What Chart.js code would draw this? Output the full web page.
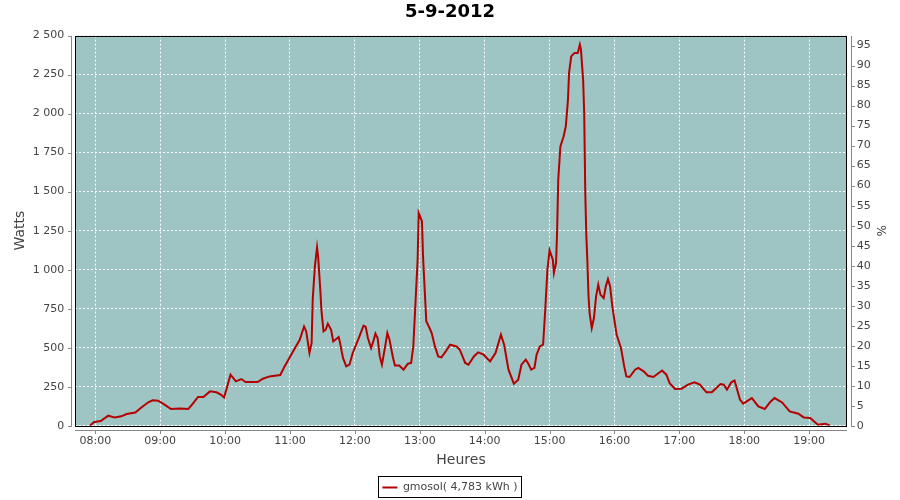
<!DOCTYPE html>
<html>
<head>
<meta charset="utf-8">
<script src="https://cdn.jsdelivr.net/npm/chart.js@4.4.1/dist/chart.umd.min.js"></script>
<style>
  html, body { margin: 0; padding: 0; background: #fff; }
  #wrap { width: 900px; height: 500px; }
</style>
</head>
<body>
<div id="wrap"><canvas id="myChart" width="900" height="500"></canvas></div>
<script>
// relevés (heure, watts)
const times = [
  '07:55','07:59','08:05','08:12','08:18','08:24','08:29','08:37','08:42','08:49',
  '08:53','08:58','09:04','09:10','09:18','09:26','09:30','09:35','09:40','09:46',
  '09:52','09:56','09:59','10:02','10:05','10:10','10:15','10:19','10:30','10:35',
  '10:41','10:51','10:55','11:02','11:09','11:13','11:15','11:18','11:20','11:21',
  '11:23','11:25','11:26','11:28','11:29','11:31','11:33','11:35','11:38','11:40',
  '11:45','11:46','11:49','11:52','11:55','11:58','12:03','12:08','12:10','12:12',
  '12:15','12:17','12:19','12:21','12:23','12:25','12:28','12:30','12:32','12:35',
  '12:37','12:41','12:45','12:49','12:52','12:54','12:56','12:58','12:59','13:02',
  '13:03','13:05','13:06','13:09','13:11','13:14','13:17','13:20','13:24','13:28',
  '13:34','13:37','13:42','13:45','13:50','13:54','13:59','14:05','14:10','14:15',
  '14:18','14:22','14:27','14:31','14:34','14:38','14:40','14:43','14:46','14:48',
  '14:51','14:54','14:56','14:58','15:00','15:03','15:04','15:06','15:07','15:08',
  '15:10','15:13','15:15','15:17','15:18','15:20','15:23','15:26','15:28','15:29',
  '15:31','15:32','15:33','15:34','15:35','15:36','15:37','15:39','15:41','15:43',
  '15:45','15:47','15:50','15:52','15:54','15:56','15:58','16:02','16:06','16:09',
  '16:11','16:14','16:19','16:22','16:27','16:31','16:36','16:44','16:48','16:51',
  '16:56','17:02','17:08','17:14','17:19','17:25','17:30','17:38','17:41','17:44',
  '17:48','17:51','17:53','17:56','17:59','18:07','18:13','18:19','18:24','18:28',
  '18:35','18:42','18:50','18:55','19:01','19:08','19:15','19:19'
];
const watts = [
  0, 24, 30, 64, 52, 60, 75, 84, 113, 150,
  163, 160, 135, 107, 110, 107, 140, 184, 184, 220,
  214, 200, 181, 252, 327, 284, 299, 280, 280, 301,
  316, 325, 380, 466, 551, 636, 604, 466, 530, 808,
  1021, 1143, 1085, 872, 744, 604, 615, 654, 615, 540,
  568, 540, 434, 380, 391, 466, 551, 641, 633, 562,
  498, 540, 590, 562, 444, 391, 508, 594, 551, 444,
  386, 386, 359, 397, 402, 508, 786, 1064, 1363, 1310,
  1085, 808, 669, 626, 594, 508, 444, 438, 476, 519,
  508, 487, 402, 391, 444, 470, 455, 412, 466, 583,
  519, 359, 269, 295, 391, 423, 402, 359, 370, 455,
  508, 519, 744, 1000, 1124, 1064, 979, 1043, 1256, 1577,
  1790, 1855, 1919, 2090, 2261, 2367, 2389, 2389, 2442, 2410,
  2218, 2004, 1491, 1213, 1043, 829, 722, 626, 690, 829,
  904, 840, 818, 893, 940, 893, 765, 583, 498, 380,
  316, 312, 359, 370, 348, 320, 312, 354, 327, 273,
  235, 237, 263, 278, 263, 214, 214, 267, 263, 231,
  278, 290, 241, 167, 141, 177, 124, 107, 152, 177,
  149, 92, 77, 53, 49, 6, 13, 2
];
const hourTicks = ['08:00','09:00','10:00','11:00','12:00','13:00','14:00','15:00','16:00','17:00','18:00','19:00'];
const pctTicks = [0, 5, 10, 15, 20, 25, 30, 35, 40, 45, 50, 55, 60, 65, 70, 75, 80, 85, 90, 95];
const seriesName = 'gmosol( 4,783 kWh )';

const toMin = s => { const p = s.split(':'); return +p[0] * 60 + +p[1]; };
const fmtTime = m => String(Math.floor(m / 60)).padStart(2, '0') + ':' + String(Math.round(m % 60)).padStart(2, '0');
const fmtWatts = v => String(v).replace(/\B(?=(\d{3})+(?!\d))/g, ' ');

const FONT = 'DejaVu Sans';
const TICK_COLOR = '#444444';

// fond du graphe + cadre + axes décalés
const plotDeco = {
  id: 'plotDeco',
  beforeDraw(chart) {
    const a = chart.chartArea, c = chart.ctx;
    c.save();
    c.fillStyle = '#9ec4c4';
    c.fillRect(a.left, a.top, a.right - a.left, a.bottom - a.top);
    c.restore();
  },
  afterDraw(chart) {
    const a = chart.chartArea, c = chart.ctx;
    const L = Math.round(a.left), R = Math.round(a.right), T = Math.round(a.top), B = Math.round(a.bottom);
    c.save();
    c.strokeStyle = '#000';
    c.lineWidth = 1;
    c.strokeRect(L + 0.5, T + 0.5, R - L - 1, B - T);

    c.strokeStyle = '#888888';
    c.beginPath();
    // axe gauche
    const yl = chart.scales.y;
    c.moveTo(L - 3.5, T); c.lineTo(L - 3.5, B + 1);
    yl.ticks.forEach(t => { const y = Math.round(yl.getPixelForValue(t.value)) + 0.5; c.moveTo(L - 7, y); c.lineTo(L - 3.5, y); });
    // axe droit
    const yr = chart.scales.y2;
    c.moveTo(R + 4.5, T); c.lineTo(R + 4.5, B + 1);
    yr.ticks.forEach(t => { const y = Math.round(yr.getPixelForValue(t.value)) + 0.5; c.moveTo(R + 4.5, y); c.lineTo(R + 8, y); });
    // axe bas
    const xs = chart.scales.x;
    c.moveTo(L, B + 4.5); c.lineTo(R, B + 4.5);
    xs.ticks.forEach(t => { const x = Math.round(xs.getPixelForValue(t.value)) + 0.5; c.moveTo(x, B + 4.5); c.lineTo(x, B + 8); });
    c.stroke();

    // cadre de la légende
    const hb = chart.legend.legendHitBoxes[0];
    if (hb) {
      c.strokeStyle = '#000';
      c.strokeRect(Math.round(hb.left) - 3.5, Math.round(hb.top) - 5.5, Math.round(hb.width) + 8, 21);
    }
    c.restore();
  }
};

const ctx = document.getElementById('myChart').getContext('2d');
new Chart(ctx, {
  type: 'line',
  data: {
    datasets: [{
      label: seriesName,
      data: times.map((t, i) => ({ x: toMin(t), y: watts[i] })),
      borderColor: '#b40000',
      backgroundColor: '#b40000',
      borderWidth: 2,
      pointRadius: 0,
      tension: 0,
      fill: false,
      yAxisID: 'y'
    }]
  },
  options: {
    responsive: false,
    animation: false,
    events: [],
    layout: { padding: { left: 0, right: 0, top: 0, bottom: -3 } },
    scales: {
      x: {
        type: 'linear',
        min: 461.5,
        max: 1174.7,
        afterBuildTicks: s => { s.ticks = hourTicks.map(h => ({ value: toMin(h) })); },
        afterFit: s => { s.height = 46.3; },
        ticks: {
          padding: 9,
          maxRotation: 0,
          autoSkip: false,
          color: TICK_COLOR,
          font: { family: FONT, size: 11 },
          callback: v => fmtTime(v)
        },
        grid: { color: '#ffffff', drawTicks: false },
        border: { display: false, dash: [2, 2] },
        title: {
          display: true, text: 'Heures', color: TICK_COLOR,
          font: { family: FONT, size: 14 }, padding: { top: 0, bottom: 3.6 }
        }
      },
      y: {
        position: 'left',
        min: 0,
        max: 2500,
        afterFit: s => { s.width = 75.3; },
        ticks: {
          stepSize: 250,
          padding: 11,
          color: TICK_COLOR,
          font: { family: FONT, size: 11 },
          callback: v => fmtWatts(v)
        },
        grid: { color: '#ffffff', drawTicks: false },
        border: { display: false, dash: [2, 2] },
        title: {
          display: true, text: 'Watts', color: TICK_COLOR,
          font: { family: FONT, size: 14 }, padding: { top: 12.3, bottom: 0 }
        }
      },
      y2: {
        position: 'right',
        min: 0,
        max: 97.5,
        afterBuildTicks: s => { s.ticks = pctTicks.map(v => ({ value: v })); },
        afterFit: s => { s.width = 53.3; },
        ticks: {
          padding: 10,
          autoSkip: false,
          color: TICK_COLOR,
          font: { family: FONT, size: 11 }
        },
        grid: { display: false, drawTicks: false },
        border: { display: false },
        title: {
          display: true, text: '%', color: TICK_COLOR,
          font: { family: FONT, size: 12 }, padding: { top: 12.8, bottom: 0 }
        }
      }
    },
    plugins: {
      title: {
        display: true,
        text: '5-9-2012',
        color: '#000',
        font: { family: FONT, size: 18, weight: 'bold' },
        padding: { top: 2, bottom: 12 }
      },
      legend: {
        display: true,
        position: 'bottom',
        labels: {
          usePointStyle: true,
          pointStyle: 'line',
          pointStyleWidth: 15,
          boxHeight: 11,
          padding: 10,
          color: TICK_COLOR,
          font: { family: FONT, size: 11 }
        }
      },
      tooltip: { enabled: false }
    }
  },
  plugins: [plotDeco]
});
</script>
</body>
</html>
